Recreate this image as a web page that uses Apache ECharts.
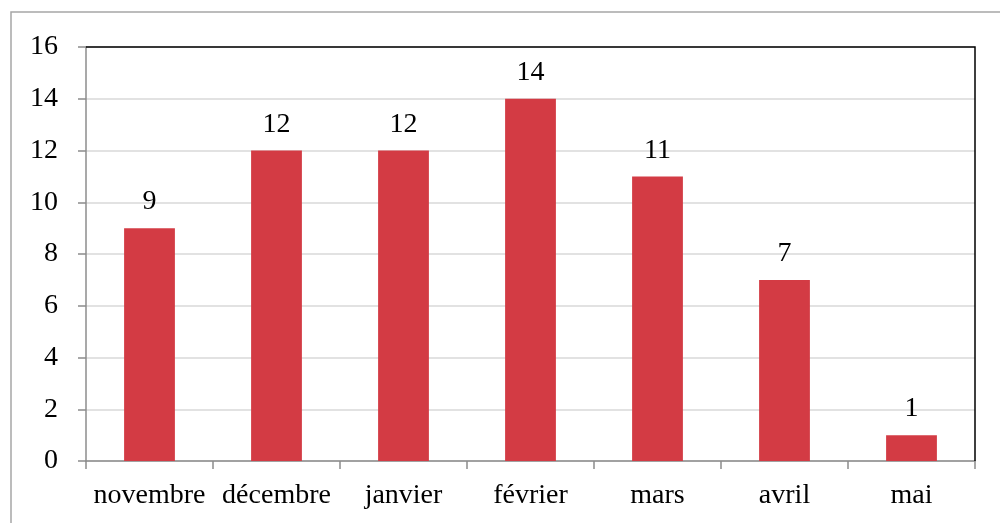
<!DOCTYPE html>
<html><head><meta charset="utf-8">
<script src="https://cdn.jsdelivr.net/npm/echarts@6/dist/echarts.min.js"></script>
<style>html,body{margin:0;padding:0;background:#fff}#c{width:1000px;height:523px}</style>
</head><body><div id="c"></div>
<script>
const categories = ['novembre','décembre','janvier','février','mars','avril','mai'];
const values = [9, 12, 12, 14, 11, 7, 1];
const yTicks = [0, 2, 4, 6, 8, 10, 12, 14, 16];

const FONT = 'Liberation Serif';
const FS = 28;
const chart = echarts.init(document.getElementById('c'), null, {renderer:'canvas'});
chart.setOption({
  animation: false,
  backgroundColor: '#fff',
  textStyle: {fontFamily: FONT},
  graphic: [
    {type:'rect', shape:{x:11, y:12, width:1200, height:600}, style:{fill:'none', stroke:'#a6a6a6', lineWidth:1.5}, silent:true, z:-1},
    {type:'polyline', shape:{points:[[86,47],[975,47],[975,461]]}, style:{fill:'none', stroke:'#000', lineWidth:1.5}, z:100}
  ],
  grid: {left:86, right:25, top:47, bottom:62, containLabel:false},
  xAxis: {
    type:'category', data: categories,
    axisLine:{lineStyle:{color:'#8c8c8c', width:1.5}},
    axisTick:{show:true, length:8, alignWithLabel:false, lineStyle:{color:'#8c8c8c', width:1.5}},
    axisLabel:{color:'#000', fontSize:FS, fontFamily:FONT, margin:21, interval:0},
    splitLine:{show:false}
  },
  yAxis: {
    type:'value', min: yTicks[0], max: yTicks[yTicks.length-1], interval: 2,
    axisLine:{show:true, lineStyle:{color:'#8c8c8c', width:1.5}},
    axisTick:{show:true, length:8, lineStyle:{color:'#8c8c8c', width:1.5}},
    axisLabel:{color:'#000', fontSize:FS, fontFamily:FONT, margin:28},
    splitLine:{show:true, lineStyle:{color:'#d9d9d9', width:1.5}}
  },
  series: [{
    type:'bar', data: values, barWidth:'40%',
    itemStyle:{color:'#d33b44'},
    label:{show:true, position:'top', distance:12, color:'#000', fontSize:FS, fontFamily:FONT}
  }]
});
</script></body></html>
